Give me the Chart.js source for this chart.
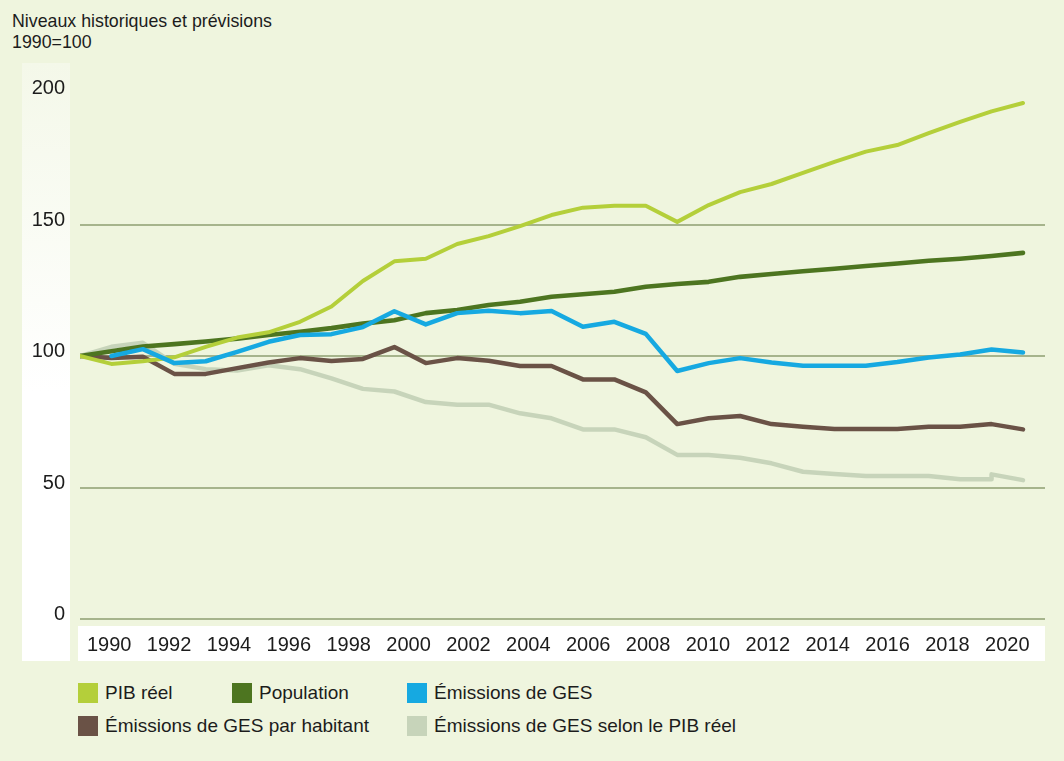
<!DOCTYPE html>
<html lang="fr">
<head>
<meta charset="utf-8">
<script src="https://cdn.jsdelivr.net/npm/chart.js@4/dist/chart.umd.min.js"></script>
<style>
  html, body { margin: 0; padding: 0; }
  body {
    width: 1064px; height: 761px; position: relative; overflow: hidden;
    background: #eff5de; font-family: "Liberation Sans", Arial, sans-serif; color: #1c1c1c;
  }
  #title { position: absolute; left: 12px; top: 11px; font-size: 17.8px; line-height: 21px; }
  #ystrip { position: absolute; left: 22px; top: 63px; width: 48px; height: 598px;
    background: linear-gradient(to bottom, #f4f8e9 0%, #ffffff 55%); }
  #xstrip { position: absolute; left: 78px; top: 626px; width: 967px; height: 35px; background: #ffffff; }
  #chart-wrap { position: absolute; left: 0; top: 0; width: 1064px; height: 680px; }
  .legend { position: absolute; font-size: 19px; line-height: 20px; }
  .legend span { display: inline-block; width: 20px; height: 20px; vertical-align: top; margin-right: 7px; }
</style>
</head>
<body>
<div id="title">Niveaux historiques et prévisions<br>1990=100</div>
<div id="ystrip"></div>
<div id="xstrip"></div>
<div id="chart-wrap"><canvas id="myChart" width="1064" height="680"></canvas></div>
<div id="legend"></div>
<script>
const years = [1990, 1991, 1992, 1993, 1994, 1995, 1996, 1997, 1998, 1999, 2000,
  2001, 2002, 2003, 2004, 2005, 2006, 2007, 2008, 2009, 2010,
  2011, 2012, 2013, 2014, 2015, 2016, 2017, 2018, 2019, 2020]
const tickYears = [1990, 1992, 1994, 1996, 1998, 2000, 2002, 2004, 2006, 2008, 2010,
  2012, 2014, 2016, 2018, 2020]
const yTicks = [0, 50, 100, 150, 200]

const pibReel = [100, 97, 98, 99.5, 103.5, 107, 109, 113, 118.8, 128.5, 136,
  137, 142.6, 145.6, 149.4, 153.6, 156.4, 157.1, 157.1, 151, 157.4,
  162.3, 165.4, 169.6, 173.8, 177.7, 180.2, 184.7, 189, 193, 196.2]
const population = [100, 101.8, 103.6, 104.5, 105.5, 106.6, 108, 109.2, 110.6, 112.3, 113.6,
  116.3, 117.5, 119.4, 120.6, 122.5, 123.5, 124.4, 126.3, 127.4, 128.2,
  130.1, 131.2, 132.2, 133.2, 134.2, 135.2, 136.2, 137, 138, 139.2]
// pas de valeur tracée pour 1990 dans la source
const emissions = [null, 100, 102.6, 97.3, 98, 101.6, 105.4, 108, 108.3, 111, 117,
  112, 116.3, 117.2, 116.3, 117.1, 111.1, 113, 108.4, 94.3, 97.3,
  99.2, 97.5, 96.3, 96.3, 96.3, 97.7, 99.4, 100.6, 102.5, 101.3]
const emissionsParHab = [100, 99.2, 99.7, 93.2, 93.2, 95.4, 97.5, 99.2, 98.1, 98.9, 103.4,
  97.3, 99.2, 98.2, 96.2, 96.2, 91.1, 91.1, 86.2, 74.1, 76.3,
  77.2, 74.1, 73.1, 72.2, 72.2, 72.2, 73.1, 73.1, 74.1, 72.1]
// la courbe source a un petit saut vertical en 2019
const emissionsPibYears = [...years.slice(0, 30), 2019, 2020]
const emissionsPib = [100, 103.5, 105, 97, 95, 94.5, 96.5, 95, 91.5, 87.5, 86.5,
  82.5, 81.5, 81.5, 78.2, 76.3, 72.1, 72.1, 69.1, 62.4, 62.4,
  61.3, 59.2, 56, 55.1, 54.4, 54.4, 54.4, 53.1, 53.1, 55, 52.8]

const seriesNames = ["PIB réel", "Population", "Émissions de GES",
  "Émissions de GES par habitant", "Émissions de GES selon le PIB réel"]
const seriesColors = ["#b4cf3a", "#4d7520", "#16a9e1", "#6a5246", "#c7d4ba"]

function toPoints(xs, vals) {
  return vals.map((v, i) => ({ x: xs[i], y: v }))
}

function lineSet(idx, points, width, order) {
  return {
    label: seriesNames[idx],
    data: points,
    borderColor: seriesColors[idx],
    backgroundColor: seriesColors[idx],
    borderWidth: width,
    pointRadius: 0,
    tension: 0,
    borderJoinStyle: 'round',
    borderCapStyle: 'round',
    spanGaps: false,
    order: order
  }
}

document.addEventListener("DOMContentLoaded", function(event) {
  // légende en grille comme dans l'original
  const legendSpots = [[78, 683], [232, 683], [407, 683], [78, 716], [407, 716]]
  document.querySelector("#legend").innerHTML = seriesNames.map((name, i) => {
    return `<div class="legend" style="left:${legendSpots[i][0]}px;top:${legendSpots[i][1]}px">
      <span style="background:${seriesColors[i]}"></span>${name}</div>`
  }).join('')

  const ctx = document.getElementById('myChart').getContext('2d')
  const chart = new Chart(ctx, {
    type: 'line',
    data: {
      datasets: [
        lineSet(0, toPoints(years, pibReel), 4, 2),
        lineSet(1, toPoints(years, population), 4.6, 3),
        lineSet(2, toPoints(years, emissions), 4.5, 1),
        lineSet(3, toPoints(years, emissionsParHab), 4.5, 4),
        lineSet(4, toPoints(emissionsPibYears, emissionsPib), 4.5, 5)
      ]
    },
    options: {
      responsive: false,
      animation: false,
      events: [],
      layout: { padding: { left: 0, right: 19, top: 93, bottom: 19 } },
      plugins: { legend: { display: false }, tooltip: { enabled: false } },
      scales: {
        x: {
          type: 'linear', display: false,
          min: 1990, max: 2020.7
        },
        xl: {
          type: 'linear', position: 'bottom',
          min: 1989.025, max: 2021.257,
          grid: { display: false, drawTicks: false },
          border: { display: false },
          afterFit: scale => { scale.height = 42 },
          afterBuildTicks: scale => { scale.ticks = tickYears.map(v => ({ value: v })) },
          ticks: {
            padding: 14, maxRotation: 0, autoSkip: false,
            color: '#1c1c1c',
            font: { family: '"Liberation Sans", Arial, sans-serif', size: 20 },
            callback: v => String(v)
          }
        },
        y: {
          min: 0, max: 200,
          afterFit: scale => { scale.width = 80 },
          afterBuildTicks: scale => { scale.ticks = yTicks.map(v => ({ value: v })) },
          grid: {
            drawTicks: false,
            lineWidth: 2,
            color: c => c.tick && c.tick.value === 200 ? 'rgba(0,0,0,0)' : '#a6b48c'
          },
          border: { display: false },
          ticks: {
            padding: 15, labelOffset: -4.5,
            color: '#1c1c1c',
            font: { family: '"Liberation Sans", Arial, sans-serif', size: 20 }
          }
        }
      }
    }
  })
})//end of DOMContentLoaded
</script>
</body>
</html>
